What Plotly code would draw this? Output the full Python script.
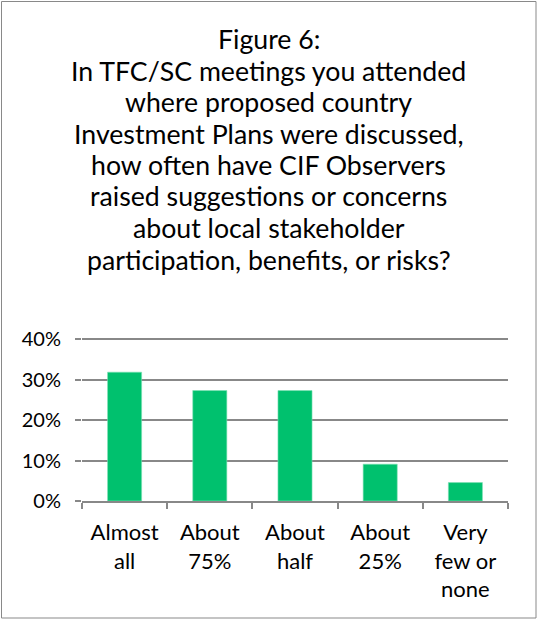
import plotly.graph_objects as go

categories = ["Almost<br>all", "About<br>75%", "About<br>half", "About<br>25%", "Very<br>few or<br>none"]
values = [7/22, 6/22, 6/22, 2/22, 1/22]
tick_vals = [0, 0.1, 0.2, 0.3, 0.4]
tick_text = ["0%", "10%", "20%", "30%", "40%"]
title_lines = [
    "Figure 6:",
    "In TFC/SC meetings you attended",
    "where proposed country",
    "Investment Plans were discussed,",
    "how often have CIF Observers",
    "raised suggestions or concerns",
    "about local stakeholder",
    "participation, benefits, or risks?",
]

FONT = "Lato, Open Sans, sans-serif"
W, H = 537, 621
L, R, T, B = 82, 29, 338, 120
pw, ph = W - L - R, H - T - B

fig = go.Figure(go.Bar(
    x=categories, y=values,
    marker=dict(color="#00C16E", line=dict(color="#7FE0B5", width=0.6)),
    width=0.4,
))

def px_to_paper_x(p):
    return (p - L) / pw

def px_to_paper_y(p):
    return (H - B - p) / ph

annotations = []
for i, line in enumerate(title_lines):
    annotations.append(dict(
        text=line, xref="paper", yref="paper",
        x=px_to_paper_x(268.5), y=px_to_paper_y(39 + 31.5 * i),
        xanchor="center", yanchor="middle", showarrow=False,
        font=dict(size=26.7, family=FONT, color="#000000"),
    ))

fig.update_layout(
    width=W, height=H,
    margin=dict(l=L, r=R, t=T, b=B),
    paper_bgcolor="white", plot_bgcolor="white",
    showlegend=False,
    font=dict(family=FONT, color="#000000", size=20),
    xaxis=dict(
        showgrid=False, showline=True, linecolor="#888888", linewidth=1.5,
        ticks="outside", ticklen=6, tickcolor="#888888", tickwidth=1.5,
        tickson="boundaries", ticklabelstandoff=11,
        tickfont=dict(size=22, family=FONT),
    ),
    yaxis=dict(
        range=[0, 0.4025], tickvals=tick_vals, ticktext=tick_text,
        showgrid=True, gridcolor="#888888", gridwidth=1.5,
        zeroline=False, showline=False,
        ticks="outside", ticklen=6, tickcolor="#888888", tickwidth=1.5,
        ticklabelstandoff=10,
        tickfont=dict(size=20, family=FONT),
    ),
    annotations=annotations,
    shapes=[dict(
        type="rect", xref="paper", yref="paper",
        x0=px_to_paper_x(1.5), x1=px_to_paper_x(536),
        y0=px_to_paper_y(618), y1=px_to_paper_y(1.5),
        line=dict(color="#898989", width=1), fillcolor="rgba(0,0,0,0)",
        layer="below",
    )],
)

fig.write_html(
    "out.html",
    config={"displayModeBar": False},
    post_script="document.body.style.margin='0';document.body.style.overflow='hidden';",
)
